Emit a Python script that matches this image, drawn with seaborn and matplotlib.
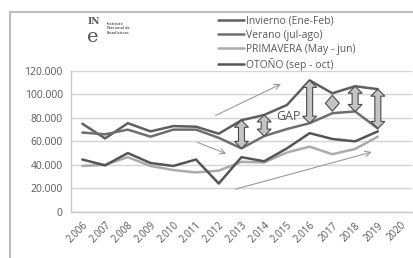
import seaborn as sns
import matplotlib.pyplot as plt
import pandas as pd
from matplotlib.patches import Polygon
from matplotlib.lines import Line2D
from matplotlib.ticker import FuncFormatter
from matplotlib.transforms import IdentityTransform

# Datos (pernoctaciones por temporada)
anios = ["2.006", "2.007", "2.008", "2.009", "2.010", "2.011", "2.012", "2.013",
         "2.014", "2.015", "2.016", "2017", "2018", "2019", "2020"]
invierno = [75000, 62500, 75500, 68500, 73000, 72500, 66500, 78000, 82500, 91000, 112000, 101000, 107000, 104500]
verano = [67500, 66000, 70000, 64000, 70000, 70000, 63000, 54000, 64500, 70500, 75500, 84000, 85500, 71000]
primavera = [39000, 40000, 46500, 39000, 35500, 33500, 35000, 42500, 42000, 50500, 55500, 49000, 53500, 64000]
otono = [44500, 39500, 50000, 41500, 39000, 44500, 24000, 46500, 43000, 54000, 67000, 62000, 60000, 68500]

series = ["Invierno (Ene-Feb)", "Verano (jul-ago)", "PRIMAVERA (May - jun)", "OTOÑO (sep - oct)"]
colores = ["#5f5f5f", "#6e6e6e", "#ababab", "#555555"]

# anios donde se marca la brecha entre las dos curvas superiores
brechas = [7, 8, 10, 12, 13]
rombo = 11
# flechas finas de tendencia (x, y) -> (x, y)
tendencias = [((5.75, 81000), (8.85, 110000)),
              ((4.95, 60000), (6.45, 48500)),
              ((6.6, 18500), (12.85, 51500))]

df = pd.concat([
    pd.DataFrame({"idx": range(len(v)), "valor": v, "serie": s})
    for s, v in zip(series, [invierno, verano, primavera, otono])
])

sns.set_style("white")
plt.rcParams["font.family"] = ["Open Sans", "DejaVu Sans"]

fig = plt.figure(figsize=(4.14, 2.58), dpi=100)
ax = fig.add_axes([0.1715, 0.1795, 0.8235, 0.5453])

sns.lineplot(data=df, x="idx", y="valor", hue="serie", hue_order=series,
             palette=colores, linewidth=1.8, ax=ax, zorder=3)

ax.set_xlim(-0.5, len(anios) - 0.5)
ax.set_ylim(0, 120000)
ax.set_yticks(range(0, 120001, 20000))
ax.yaxis.set_major_formatter(FuncFormatter(lambda v, p: f"{int(v):,}".replace(",", ".")))
ax.set_xticks(range(len(anios)))
ax.set_xticklabels(anios, rotation=45, ha="right", va="top", rotation_mode="anchor")
ax.set_xticks([i - 0.5 for i in range(len(anios) + 1)], minor=True)
ax.tick_params(axis="x", which="major", length=0, pad=6, labelsize=7, colors="#555555")
ax.tick_params(axis="x", which="minor", length=3, color="#c8c8c8", width=0.8)
ax.tick_params(axis="y", length=3, color="#c8c8c8", labelsize=7.5, colors="#595959", pad=3)
ax.set_xlabel("")
ax.set_ylabel("")
ax.grid(axis="y", color="#d4d4d4", lw=1)
for s in ["top", "right"]:
    ax.spines[s].set_visible(False)
for s in ["left", "bottom"]:
    ax.spines[s].set_color("#c8c8c8")
    ax.spines[s].set_linewidth(1)

h, l = ax.get_legend_handles_labels()
ax.legend(h, l, loc="upper left", bbox_to_anchor=(0.515, 0.96), bbox_transform=fig.transFigure,
          frameon=False, fontsize=7.5, handlelength=2.5, handletextpad=0.1,
          labelspacing=0.3, borderpad=0, labelcolor="#595959")

# flechas dobles (brecha) dibujadas en pixeles
def flecha_doble(x, y1, y2):
    px, pa = ax.transData.transform((x, y1))
    _, pb = ax.transData.transform((x, y2))
    top, bot = max(pa, pb), min(pa, pb)
    sw, hw, hl = 3, 7, 7
    pts = [(px, top), (px + hw, top - hl), (px + sw, top - hl), (px + sw, bot + hl),
           (px + hw, bot + hl), (px, bot), (px - hw, bot + hl), (px - sw, bot + hl),
           (px - sw, top - hl), (px - hw, top - hl)]
    ax.add_patch(Polygon(pts, closed=True, transform=IdentityTransform(),
                         fc="#c4c4c4", ec="#4a4a4a", lw=0.8, zorder=5))

for i in brechas:
    flecha_doble(i, invierno[i], verano[i])

cx, cy = ax.transData.transform((rombo, (invierno[rombo] + verano[rombo]) / 2))
ax.add_patch(Polygon([(cx, cy + 8), (cx + 7, cy), (cx, cy - 8), (cx - 7, cy)], closed=True,
                     transform=IdentityTransform(), fc="#c4c4c4", ec="#4a4a4a", lw=0.8, zorder=5))

for a, b in tendencias:
    ax.annotate("", xy=b, xytext=a,
                arrowprops=dict(arrowstyle="->", color="#9a9a9a", lw=0.8), zorder=4)

ax.text(9.05, 81000, "GAP", fontsize=9, color="#555555", ha="center", va="center", zorder=6)

# logo INE
fig.text(0.212, 0.915, "IN", fontsize=6.5, fontweight="bold", family="DejaVu Serif", color="#555555",
         ha="left", va="center")
fig.text(0.210, 0.858, "e", fontsize=14, family="DejaVu Serif", color="#555555", ha="left", va="center")
fig.text(0.258, 0.89, "Instituto\nNacional de\nEstadísticas", fontsize=2.8, fontweight="bold",
         color="#666666", ha="left", va="center", linespacing=1.1)

# marco del grafico
fig.add_artist(Line2D([0.024, 1.0], [0.953, 0.953], color="#bdbdbd", lw=1.5, transform=fig.transFigure))
fig.add_artist(Line2D([0.024, 0.024], [0.0, 0.953], color="#bdbdbd", lw=1.5, transform=fig.transFigure))

fig.savefig("out.png", dpi=100)
